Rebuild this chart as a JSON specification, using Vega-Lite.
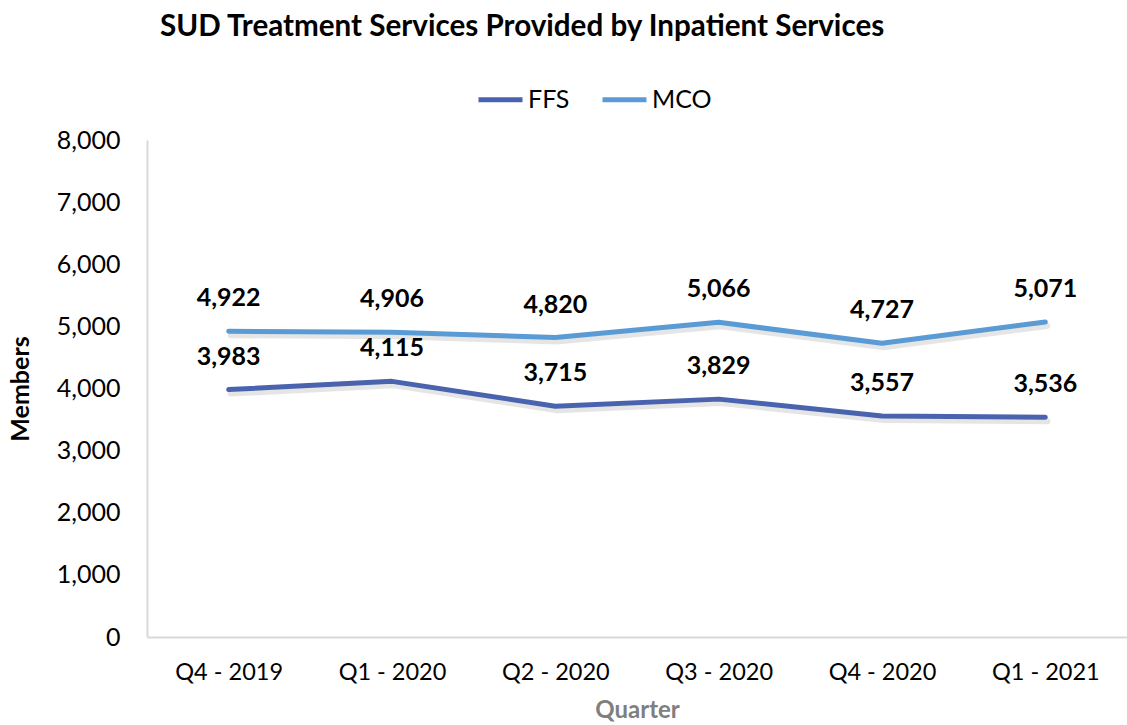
{
  "$schema": "https://vega.github.io/schema/vega-lite/v6.json",
  "width": 980,
  "height": 497,
  "autosize": {"type": "none"},
  "padding": {"left": 147, "top": 140, "right": 0, "bottom": 88},
  "background": "white",
  "config": {
    "view": {"stroke": null},
    "font": "Lato",
    "axis": {"labelFont": "Lato", "titleFont": "Lato"}
  },
  "title": {
    "text": "SUD Treatment Services Provided by Inpatient Services",
    "anchor": "start",
    "frame": "group",
    "dx": 13,
    "offset": 32,
    "fontSize": 29.6,
    "fontWeight": "bold",
    "font": "Lato",
    "color": "#000000"
  },
  "data": {
    "values": [
      {"quarter": "Q4 - 2019", "series": "FFS", "members": 3983},
      {"quarter": "Q1 - 2020", "series": "FFS", "members": 4115},
      {"quarter": "Q2 - 2020", "series": "FFS", "members": 3715},
      {"quarter": "Q3 - 2020", "series": "FFS", "members": 3829},
      {"quarter": "Q4 - 2020", "series": "FFS", "members": 3557},
      {"quarter": "Q1 - 2021", "series": "FFS", "members": 3536},
      {"quarter": "Q4 - 2019", "series": "MCO", "members": 4922},
      {"quarter": "Q1 - 2020", "series": "MCO", "members": 4906},
      {"quarter": "Q2 - 2020", "series": "MCO", "members": 4820},
      {"quarter": "Q3 - 2020", "series": "MCO", "members": 5066},
      {"quarter": "Q4 - 2020", "series": "MCO", "members": 4727},
      {"quarter": "Q1 - 2021", "series": "MCO", "members": 5071}
    ]
  },
  "encoding": {
    "x": {
      "field": "quarter",
      "type": "ordinal",
      "sort": null,
      "scale": {"type": "point", "padding": 0.5},
      "axis": {
        "title": "Quarter",
        "titleFontSize": 24,
        "titleFontWeight": "bold",
        "titleColor": "#7f7f7f",
        "titlePadding": 15,
        "labelAngle": 0,
        "labelFontSize": 23.5,
        "labelColor": "#000000",
        "labelPadding": 23,
        "ticks": false,
        "domainColor": "#d9d9d9",
        "domainWidth": 2
      }
    },
    "y": {
      "field": "members",
      "type": "quantitative",
      "scale": {"domain": [0, 8000]},
      "axis": {
        "title": "Members",
        "titleFontSize": 25,
        "titleFontWeight": "bold",
        "titleColor": "#000000",
        "titlePadding": 23,
        "values": [0, 1000, 2000, 3000, 4000, 5000, 6000, 7000, 8000],
        "format": ",d",
        "labelFontSize": 25,
        "labelColor": "#000000",
        "labelPadding": 27,
        "ticks": false,
        "grid": false,
        "domainColor": "#d9d9d9",
        "domainWidth": 2
      }
    }
  },
  "layer": [
    {
      "mark": {"type": "line", "strokeWidth": 6, "color": "#000000", "opacity": 0.1, "xOffset": 2, "yOffset": 4, "strokeCap": "round"},
      "encoding": {"detail": {"field": "series"}}
    },
    {
      "mark": {"type": "line", "strokeWidth": 5, "strokeCap": "round", "strokeJoin": "round"},
      "encoding": {
        "color": {
          "field": "series",
          "type": "nominal",
          "scale": {"domain": ["FFS", "MCO"], "range": ["#4a63ae", "#5b9bd5"]},
          "legend": {
            "title": null,
            "orient": "none",
            "direction": "horizontal",
            "legendX": 329,
            "legendY": -65,
            "symbolType": "stroke",
            "symbolSize": 1936,
            "symbolStrokeWidth": 5,
            "labelFontSize": 25,
            "labelFont": "Lato",
            "labelColor": "#000000",
            "labelOffset": 3,
            "columnPadding": 22
          }
        }
      }
    },
    {
      "mark": {"type": "text", "dy": -33, "fontSize": 25, "fontWeight": "bold", "font": "Lato", "color": "#000000"},
      "encoding": {
        "text": {"field": "members", "type": "quantitative", "format": ","}
      }
    }
  ]
}
